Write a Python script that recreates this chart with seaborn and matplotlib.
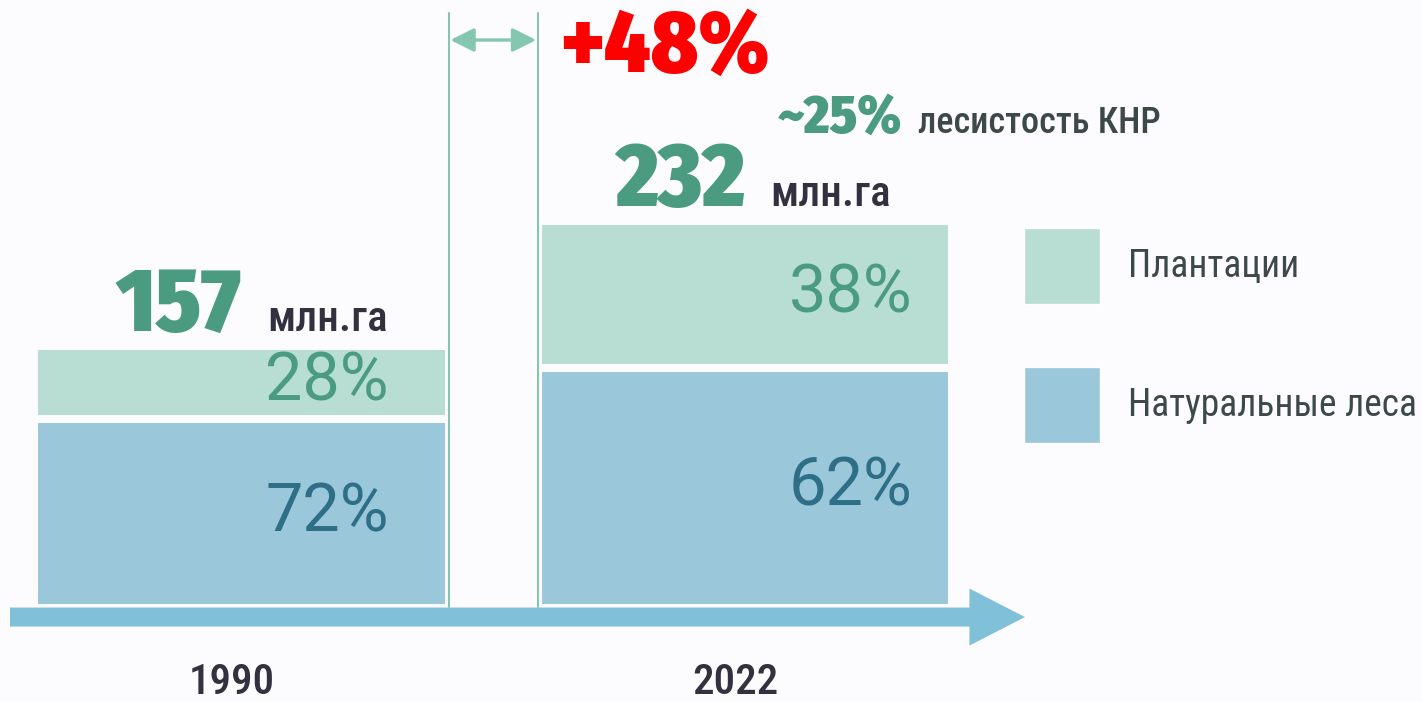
import matplotlib
matplotlib.use("Agg")
import matplotlib.pyplot as plt
import matplotlib.transforms as mtransforms
from matplotlib.patches import Patch
import pandas as pd
import seaborn as sns

YEARS = ["1990", "2022"]
TOTAL_MHA = [157, 232]          # млн.га
PLANT_SHARE = [28, 38]          # %
NATURAL_SHARE = [72, 62]        # %
GROWTH_LABEL = "+48%"
FOREST_COVER = "~25%"

BG = "#fcfbfe"
C_PLANT = "#b8ddd3"
C_NAT = "#9ac7da"
C_TEAL = "#4a9b80"
C_NAT_TXT = "#2e6f87"
C_DARK = "#33313f"
C_GREY = "#3d4848"
C_ARROW = "#80c0d9"
C_LINE = "#85c6b0"

sns.set_theme(style="white")
plt.rcParams["font.family"] = ["Roboto Condensed", "DejaVu Sans"]
HEAVY = ["Fira Sans Condensed", "DejaVu Sans"]
PCT = ["Roboto", "DejaVu Sans"]

df = pd.DataFrame({
    "year": YEARS,
    "total": TOTAL_MHA,
    "natural": [t * s / 100 for t, s in zip(TOTAL_MHA, NATURAL_SHARE)],
})

fig = plt.figure(figsize=(14.22, 7.02), dpi=100, facecolor=BG)
ax = fig.add_axes([0, 0, 1, 1])
ax.set_facecolor(BG)

BAR_W = 0.824
sns.barplot(data=df, x="year", y="total", color=C_PLANT, width=BAR_W,
            saturation=1, edgecolor=BG, linewidth=5.8, ax=ax)
sns.barplot(data=df, x="year", y="natural", color=C_NAT, width=BAR_W,
            saturation=1, edgecolor=BG, linewidth=5.8, ax=ax)

ax.set_xlim(-0.48, 2.345)
ax.set_ylim(-56.4, 364.5)
ax.set_axis_off()

# labels on and above the bars
for i, row in df.iterrows():
    shift = 0.17 if i == 0 else 0.21
    plant_mid = (row["natural"] + row["total"]) / 2
    ax.text(i + shift, plant_mid, f"{PLANT_SHARE[i]}%", ha="center", va="center",
            fontsize=48, color=C_TEAL, family=PCT)
    ax.text(i + shift, row["natural"] / 2, f"{NATURAL_SHARE[i]}%", ha="center",
            va="center", fontsize=48, color=C_NAT_TXT, family=PCT)
    ax.text(i, row["total"] + 9, str(row["total"]), ha="right", va="baseline",
            fontsize=65, fontweight=900, color=C_TEAL, family=HEAVY)
    ax.text(i + 0.05, row["total"] + 9, "млн.га", ha="left", va="baseline",
            fontsize=31, fontweight="medium", color=C_DARK)

# year labels under the time arrow
blend = mtransforms.blended_transform_factory(ax.transData, ax.transAxes)
for i, yr in enumerate(YEARS):
    ax.text(i - 0.02, 0.012, yr, transform=blend, ha="center", va="baseline",
            fontsize=31, color=C_DARK, fontweight="medium")

# time arrow
ax.annotate("", xy=(1025 / 1422, 0.121), xytext=(10 / 1422, 0.121),
            xycoords="axes fraction",
            arrowprops=dict(arrowstyle="simple,head_width=4.1,head_length=4.0,tail_width=1.37",
                            color=C_ARROW, mutation_scale=10, shrinkA=0, shrinkB=0, lw=0))

# growth bracket between the bars
x_left, x_right = BAR_W / 2, 1 - BAR_W / 2
for x in (x_left, x_right):
    ax.axvline(x, ymin=0.135, ymax=0.982, color=C_LINE, lw=1.5)
ax.annotate("", xy=(x_right, 0.943), xytext=(x_left, 0.943), xycoords=blend,
            arrowprops=dict(arrowstyle="<|-|>,head_length=0.6,head_width=0.3", color=C_LINE,
                            lw=2.4, mutation_scale=24, shrinkA=1, shrinkB=1))
ax.text(560 / 1422, 1 - 72 / 702, GROWTH_LABEL, transform=ax.transAxes, ha="left",
        va="baseline", fontsize=63, fontweight=900, color="#ff0000", family=HEAVY)

ax.text(778 / 1422, 1 - 133 / 702, FOREST_COVER, transform=ax.transAxes, ha="left",
        va="baseline", fontsize=39, fontweight=900, color=C_TEAL, family=HEAVY)
ax.text(918 / 1422, 1 - 133 / 702, "лесистость КНР", transform=ax.transAxes,
        ha="left", va="baseline", fontsize=26, fontweight="medium", color=C_GREY)

handles = [Patch(facecolor=C_PLANT, label="Плантации"),
           Patch(facecolor=C_NAT, label="Натуральные леса")]
ax.legend(handles=handles, loc="upper left", bbox_to_anchor=(1024 / 1422, 1 - 228 / 702),
          frameon=False, fontsize=27, labelcolor=C_GREY, handlelength=2.03,
          handleheight=2.74, labelspacing=1.68, handletextpad=0.75, borderpad=0,
          borderaxespad=0)

fig.savefig("out.png", dpi=100, facecolor=BG)
